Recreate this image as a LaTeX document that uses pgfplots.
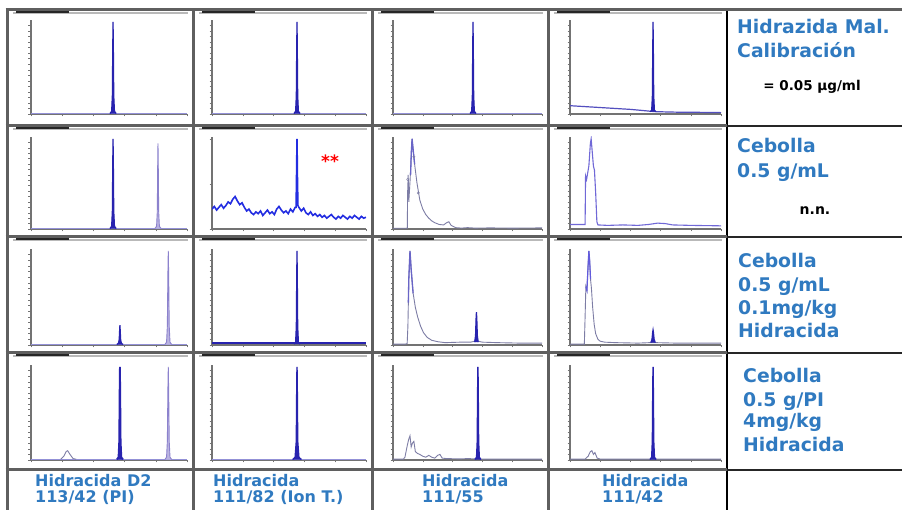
\documentclass[border=0pt]{standalone}
\usepackage{pgfplots}
\pgfplotsset{compat=1.18}
\usepackage{fontspec}
\setmainfont{DejaVu Sans}
\definecolor{pk}{RGB}{40,35,175}
\definecolor{pkl}{RGB}{140,130,205}
\definecolor{nz}{RGB}{35,45,225}
\definecolor{tl}{RGB}{125,125,165}
\definecolor{lb}{RGB}{48,122,192}
\definecolor{axg}{RGB}{115,115,115}
\definecolor{gridg}{RGB}{95,95,95}
\pgfplotsset{chrom/.style={scale only axis, anchor=south west,
  xmin=0,xmax=100,ymin=0,ymax=102,
  axis x line*=bottom, axis y line*=left,
  axis line style={axg, line width=1.2pt},
  tick style={axg, line width=0.5pt}, major tick length=2.5pt, tick align=outside,
  xtick={0,20,40,60,80,100}, ytick={0,6,12,18,24,30,36,42,48,54,60,66,72,78,84,90,96},
  xticklabels={}, yticklabels={}}}
\newcommand{\lab}[4]{\node[anchor=base west, inner sep=0pt, text=lb, font=\bfseries\fontsize{#3}{#3}\selectfont] at (#1pt,#2pt) {#4};}
\begin{document}
\begin{tikzpicture}[x=1pt,y=1pt]
\path[use as bounding box] (0,0) rectangle (902,510);
\fill[white] (0,0) rectangle (902,510);
% header bars
\foreach \cl/\cr in {7/193,193/372,372/548,548/727}{
  \foreach \yy in {497,381,270,154}{
    \draw[gray!55, line width=1.6pt] (\cl+6,\yy) -- (\cr-5,\yy);
    \draw[gray!30!black, line width=1.1pt] (\cl+9,\yy+1) -- (\cl+62,\yy+1);
  }}
% ---------- Row 1 ----------
\begin{axis}[chrom, at={(31pt,396pt)}, width=156pt, height=94pt]
\addplot[pk!50, line width=0.8pt] coordinates {(0,0.8)(100,0.8)};
\addplot[draw=pk, fill=pk, line width=1.2pt] coordinates {(50.6,0.5)(51.7,3)(52.15,20)(52.42,75)(52.6,100)(52.78,75)(53.05,20)(53.5,3)(54.6,0.5)};
\end{axis}
\begin{axis}[chrom, at={(212pt,396pt)}, width=154pt, height=94pt]
\addplot[pk!50, line width=0.8pt] coordinates {(0,0.8)(100,0.8)};
\addplot[draw=pk, fill=pk, line width=1.2pt] coordinates {(53.2,0.5)(54.3,3)(54.75,20)(55.02,75)(55.2,100)(55.38,75)(55.65,20)(56.1,3)(57.2,0.5)};
\end{axis}
\begin{axis}[chrom, at={(393pt,396pt)}, width=149pt, height=94pt]
\addplot[pk!50, line width=0.8pt] coordinates {(0,0.8)(100,0.8)};
\addplot[draw=pk, fill=pk, line width=1.2pt] coordinates {(51.7,0.5)(52.8,3)(53.25,20)(53.52,75)(53.7,100)(53.88,75)(54.15,20)(54.6,3)(55.7,0.5)};
\end{axis}
\begin{axis}[chrom, at={(570pt,396pt)}, width=151pt, height=94pt]
\addplot[pk!80, line width=1.2pt] coordinates {(0,9)(10,8)(25,6.5)(40,5)(50,3.5)(53,3)(57,2.5)(70,2)(85,1.8)(100,1.5)};
\addplot[draw=pk, fill=pk, line width=1.2pt] coordinates {(53,2.5)(54.1,4)(54.55,20)(54.82,75)(55,100)(55.18,75)(55.45,20)(55.9,4)(57,2.5)};
\end{axis}
% ---------- Row 2 ----------
\begin{axis}[chrom, at={(31pt,281pt)}, width=156pt, height=92pt]
\addplot[pk!50, line width=0.8pt] coordinates {(0,0.8)(100,0.8)};
\addplot[draw=pk, fill=pk, line width=1.2pt] coordinates {(50.6,0.5)(51.7,3)(52.15,20)(52.42,75)(52.6,100)(52.78,75)(53.05,20)(53.5,3)(54.6,0.5)};
\addplot[draw=pkl, fill=pkl!60, line width=0.9pt] coordinates {(79.4,0.5)(80.5,3)(80.95,19)(81.22,71)(81.4,95)(81.58,71)(81.85,19)(82.3,3)(83.4,0.5)};
\end{axis}
\begin{axis}[chrom, at={(212pt,281pt)}, width=154pt, height=92pt, ytick={0,50,100}]
\addplot[nz, line width=1.6pt] coordinates {(0,22)(1.5,25)(3,21)(4.5,24)(6,27)(7.5,23)(9,26)(10.5,30)(12,28)(13.5,33)(15,36)(16.5,31)(18,27)(19.5,29)(21,24)(22.5,20)(24,22)(25.5,18)(27,16)(28.5,19)(30,17)(31.5,20)(33,15)(34.5,18)(36,21)(37.5,17)(39,19)(40.5,16)(42,22)(43.5,25)(45,21)(46.5,18)(48,20)(49.5,17)(51,22)(52.5,19)(54,24)(54.6,24)(54.9,60)(55.2,100)(55.5,55)(55.8,26)(56.4,24)(58,20)(59.5,23)(61,18)(62.5,16)(64,19)(65.5,15)(67,17)(68.5,14)(70,16)(71.5,13)(73,15)(74.5,12)(76,14)(77.5,16)(79,13)(80.5,11)(82,14)(83.5,12)(85,15)(86.5,13)(88,11)(89.5,14)(91,12)(92.5,15)(94,13)(95.5,11)(97,14)(98.5,12)(100,13)};
\end{axis}
\node[text=red, font=\bfseries\fontsize{17}{17}\selectfont] at (330pt,349pt) {**};
\begin{axis}[chrom, at={(393pt,281pt)}, width=149pt, height=92pt]
\addplot[tl, line width=0.9pt] coordinates {(0,0.8)(9,0.8)(9.6,1)(9.8,40)(10.2,60)(10.6,30)(11.5,55)(12.3,85)(12.8,100)(13.4,90)(14.5,72)(16,52)(18,32)(20,22)(22,16)(24,12)(26,9)(28,7)(31,5)(34,4.5)(36,7)(37.5,8)(39,4)(42,1.5)(46,1)(50,1.5)(55,1)(65,1.2)(80,1)(100,1.2)};
\addplot[pk!70, line width=1.3pt] coordinates {(11.8,60)(12.3,85)(12.8,100)(13.4,90)(14.5,72)};
\addplot[tl, only marks, mark=o, mark size=1.2pt] coordinates {(9.9,55)(14,80)(17,40)};
\end{axis}
\begin{axis}[chrom, at={(570pt,281pt)}, width=151pt, height=92pt]
\addplot[pkl!80!blue, line width=1.1pt] coordinates {(0,5)(9.8,5)(10,5)(10.3,59)(11,55)(12.5,70)(13.5,95)(14,100)(14.6,88)(15.5,70)(16.2,65)(17,40)(17.8,8)(18.5,4.5)(25,4)(35,4.5)(45,4)(52,5)(58,6.5)(63,6)(68,4.5)(80,4)(100,3.5)};
\end{axis}
% ---------- Row 3 ----------
\begin{axis}[chrom, at={(31pt,165pt)}, width=156pt, height=96pt]
\addplot[pk!50, line width=0.8pt] coordinates {(0,0.8)(100,0.8)};
\addplot[draw=pk, fill=pk, line width=1.2pt] coordinates {(55,0.5)(56.1,2)(56.55,6)(56.82,16)(57,21)(57.18,16)(57.45,6)(57.9,2)(59,0.5)};
\addplot[draw=pkl, fill=pkl!60, line width=0.9pt] coordinates {(85.8,0.5)(86.9,3)(87.4,20)(87.75,75)(88,100)(88.25,75)(88.6,20)(89.1,3)(90.2,0.5)};
\end{axis}
\begin{axis}[chrom, at={(212pt,165pt)}, width=154pt, height=96pt]
\addplot[pk, line width=2pt] coordinates {(0,2)(100,2)};
\addplot[draw=pk, fill=pk, line width=1.2pt] coordinates {(53.2,1)(54.3,3)(54.75,20)(55.02,75)(55.2,100)(55.38,75)(55.65,20)(56.1,3)(57.2,1)};
\end{axis}
\begin{axis}[chrom, at={(393pt,165pt)}, width=149pt, height=96pt]
\addplot[tl, line width=0.9pt] coordinates {(0,1)(8.5,1)(9.5,1.5)(10,20)(10.6,70)(11.4,100)(12.2,80)(13.5,55)(15,40)(16.5,30)(18.5,20)(20.5,13)(23,8)(26,5)(30,3.5)(35,2.5)(45,3)(52,3)(54.8,4)(57.2,4)(60,3)(70,2.5)(85,2)(100,2)};
\addplot[pk!70, line width=1.3pt] coordinates {(10.3,45)(10.6,70)(11.4,100)(12.2,80)(13.5,55)};
\addplot[draw=pk, fill=pk, line width=1.2pt] coordinates {(54.8,3)(55.4,10)(55.75,28)(56,35)(56.25,28)(56.6,10)(57.2,3)};
\end{axis}
\begin{axis}[chrom, at={(570pt,165pt)}, width=151pt, height=96pt]
\addplot[tl, line width=0.9pt] coordinates {(0,1)(9.5,1)(10,30)(10.5,62)(11.2,58)(12,85)(12.5,100)(13,90)(13.6,70)(14.2,60)(15,40)(16,22)(17,12)(18.5,6)(20,4)(23,3)(30,2.5)(45,2)(53,2.5)(56.5,2.5)(70,2)(100,2)};
\addplot[pkl!70!blue, line width=1.2pt] coordinates {(10.5,62)(11.2,58)(12,85)(12.5,100)(13,90)(13.6,70)};
\addplot[draw=pk, fill=pk, line width=1.2pt] coordinates {(53.5,2.5)(54.3,6)(54.7,13)(55,16)(55.3,13)(55.7,6)(56.5,2.5)};
\end{axis}
% ---------- Row 4 ----------
\begin{axis}[chrom, at={(31pt,50pt)}, width=156pt, height=95pt]
\addplot[pk!50, line width=0.8pt] coordinates {(0,0.8)(100,0.8)};
\addplot[tl, line width=0.9pt] coordinates {(19,0.8)(21,4)(22.5,9)(23.5,10)(25,6)(27,1.5)(29,0.8)};
\addplot[draw=pk, fill=pk, line width=1.8pt] coordinates {(55,0.5)(56.1,3)(56.55,20)(56.82,75)(57,100)(57.18,75)(57.45,20)(57.9,3)(59,0.5)};
\addplot[draw=pkl, fill=pkl!60, line width=0.9pt] coordinates {(85.8,0.5)(86.9,3)(87.4,20)(87.75,75)(88,100)(88.25,75)(88.6,20)(89.1,3)(90.2,0.5)};
\end{axis}
\begin{axis}[chrom, at={(212pt,50pt)}, width=154pt, height=95pt]
\addplot[pk!50, line width=0.8pt] coordinates {(0,0.8)(100,0.8)};
\addplot[draw=pk, fill=pk, line width=1.4pt] coordinates {(52.4,0.5)(54,3)(54.75,20)(55.02,75)(55.2,100)(55.38,75)(55.65,20)(56.4,3)(58,0.5)};
\end{axis}
\begin{axis}[chrom, at={(393pt,50pt)}, width=149pt, height=95pt]
\addplot[tl, line width=0.9pt] coordinates {(0,1)(7,1)(8,3)(9.5,15)(10.5,22)(11.4,26)(12.2,14)(13,18)(14,20)(15,9)(16.5,7)(18,6)(20,4)(22,3)(24,5)(26,3)(28,2)(30,5)(31.5,6)(33,2)(36,1.5)(45,1.2)(50,1.5)(60,1)(100,1)};
\addplot[draw=pk, fill=pk, line width=1.4pt] coordinates {(55,0.5)(56.1,3)(56.55,20)(56.82,75)(57,100)(57.18,75)(57.45,20)(57.9,3)(59,0.5)};
\end{axis}
\begin{axis}[chrom, at={(570pt,50pt)}, width=151pt, height=95pt]
\addplot[tl, line width=0.9pt] coordinates {(0,1)(10,1)(12,4)(13.5,9)(14.5,10)(15.5,6)(16.5,8)(18,2)(20,1)(100,1)};
\addplot[draw=pk, fill=pk, line width=1.4pt] coordinates {(53,0.5)(54.1,3)(54.55,20)(54.82,75)(55,100)(55.18,75)(55.45,20)(55.9,3)(57,0.5)};
\end{axis}
% ---------- grid ----------
\foreach \xx in {7,193,372,548}{\draw[gridg, line width=3pt] (\xx,0) -- (\xx,501.5);}
\draw[black, line width=1.8pt] (727,0) -- (727,501.5);
\draw[gridg, line width=3pt] (5.5,500) -- (902,500);
\foreach \yy in {384,273,157,40}{
  \draw[gridg, line width=3pt] (5.5,\yy) -- (727,\yy);
  \draw[black!85, line width=1.6pt] (727,\yy) -- (902,\yy);}
% ---------- right column text ----------
\lab{737}{476}{18.8}{Hidrazida Mal.}
\lab{737}{452}{18.8}{Calibración}
\node[anchor=base, inner sep=0pt, font=\bfseries\fontsize{13.5}{13.5}\selectfont] at (812pt,419pt) {= 0.05 µg/ml};
\lab{737}{357}{18.8}{Cebolla}
\lab{737}{332}{18.8}{0.5 g/mL}
\node[anchor=base, inner sep=0pt, font=\bfseries\fontsize{14}{14}\selectfont] at (815pt,295pt) {n.n.};
\lab{738}{242}{18.8}{Cebolla}
\lab{738}{218}{18.8}{0.5 g/mL}
\lab{738}{195}{18.8}{0.1mg/kg}
\lab{738}{172}{18.8}{Hidracida}
\lab{743}{127}{18.8}{Cebolla}
\lab{743}{103}{18.8}{0.5 g/PI}
\lab{743}{82}{18.8}{4mg/kg}
\lab{743}{58}{18.8}{Hidracida}
% ---------- bottom labels ----------
\lab{35}{23}{16}{Hidracida D2}
\lab{35}{7}{16}{113/42 (PI)}
\lab{213}{23}{16}{Hidracida}
\lab{213}{7}{16}{111/82 (Ion T.)}
\lab{422}{23}{16}{Hidracida}
\lab{422}{7}{16}{111/55}
\lab{602}{23}{16}{Hidracida}
\lab{602}{7}{16}{111/42}
\end{tikzpicture}
\end{document}
